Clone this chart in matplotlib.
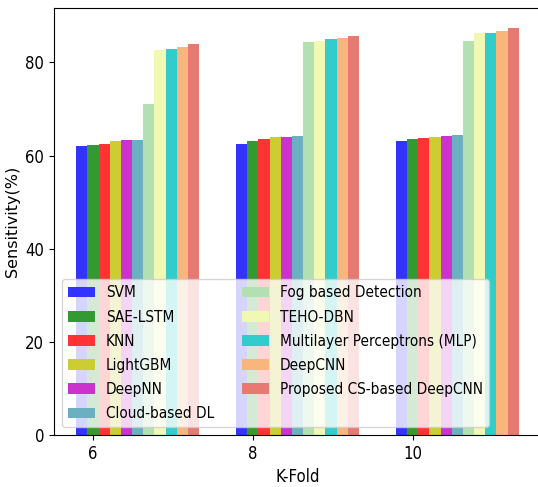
import numpy as np
import matplotlib
matplotlib.use("Agg")
import matplotlib.pyplot as plt

folds = [6, 8, 10]
models = ['SVM', 'SAE-LSTM', 'KNN', 'LightGBM', 'DeepNN', 'Cloud-based DL',
          'Fog based Detection', 'TEHO-DBN', 'Multilayer Perceptrons (MLP)',
          'DeepCNN', 'Proposed CS-based DeepCNN']

svm = [62.0, 62.5, 63.1]
sae_lstm = [62.3, 63.1, 63.6]
knn = [62.5, 63.6, 63.7]
lightgbm = [63.1, 63.9, 64.0]
deepnn = [63.3, 64.0, 64.1]
cloud_dl = [63.4, 64.1, 64.3]
fog = [71.1, 84.4, 84.5]
teho_dbn = [82.7, 84.6, 86.2]
mlp = [82.9, 85.1, 86.4]
deepcnn = [83.4, 85.3, 86.8]
proposed = [83.9, 85.6, 87.3]

colors = ['#3333ff', '#339933', '#ff3333', '#cccc33', '#cc33cc', '#6ab0c0',
          '#b3e0b3', '#f0f8b4', '#33cccc', '#f8b67c', '#e87872']

series = [svm, sae_lstm, knn, lightgbm, deepnn, cloud_dl, fog, teho_dbn,
          mlp, deepcnn, proposed]

# the reference text looks squeezed sideways, use the condensed face if present
plt.rcParams['font.family'] = ['DejaVu Sans']
plt.rcParams['font.stretch'] = 'condensed'

fig = plt.figure(figsize=(5.38, 4.87), dpi=100)
ax = fig.add_axes([54 / 538, 52 / 487, 487 / 538, 427 / 487])

x = np.arange(len(folds))
width = 0.07
for i, (vals, name) in enumerate(zip(series, models)):
    ax.bar(x + i * width, vals, width, color=colors[i], label=name)

ax.set_xticks(x + width)
ax.set_xticklabels(folds, fontsize=12)
ax.tick_params(axis='y', labelsize=12)
ax.set_xlabel('K-Fold', fontsize=12)
ax.set_ylabel('Sensitivity(%)', fontsize=11.5, fontstretch='normal')
ax.legend(loc='lower left', ncol=2, fontsize=11, labelspacing=0.6,
          handlelength=1.8, handletextpad=0.7, columnspacing=1.8)

fig.savefig('out.png', dpi=100)
